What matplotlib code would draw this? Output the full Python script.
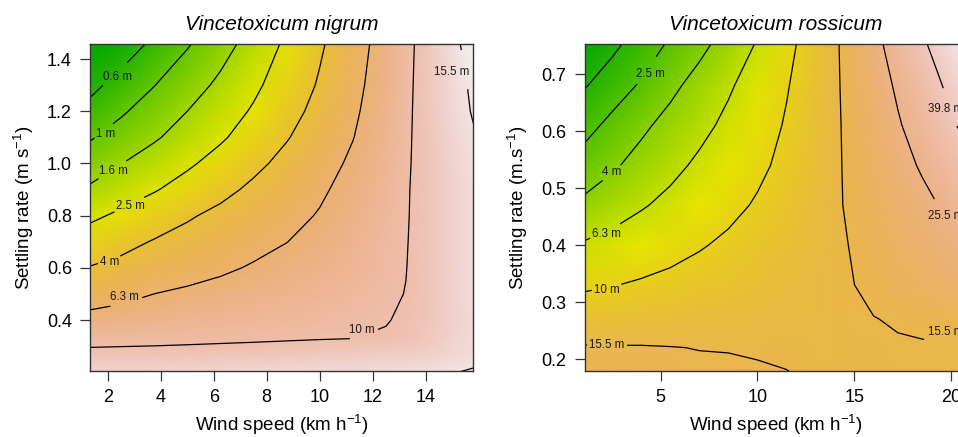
import numpy as np
import matplotlib
matplotlib.use("Agg")
import matplotlib.pyplot as plt
from matplotlib.colors import ListedColormap, hsv_to_rgb

plt.rcParams['font.family'] = ['Liberation Sans', 'DejaVu Sans']
plt.rcParams['mathtext.fontset'] = 'custom'
plt.rcParams['mathtext.rm'] = 'Liberation Sans'
plt.rcParams['mathtext.it'] = 'Liberation Sans:italic'
plt.rcParams['contour.negative_linestyle'] = 'solid'

# ---- Vincetoxicum nigrum: log10 of dispersal distance (m) ----
nigrum_wind = [1.3, 2.5, 3.75, 5, 6.25, 7.5, 8.75, 10, 11.25, 12.5, 13.25, 14, 14.9, 15.8]
nigrum_settling = [0.2, 0.27, 0.33, 0.4, 0.5, 0.6, 0.7, 0.8, 0.9, 1.0, 1.1, 1.2, 1.3, 1.46]
nigrum_log10_dist = [
    [1.12, 1.12, 1.125, 1.13, 1.135, 1.14, 1.145, 1.15, 1.155, 1.16, 1.165, 1.17, 1.185, 1.20],
    [1.033, 1.035, 1.036, 1.038, 1.041, 1.045, 1.052, 1.06, 1.075, 1.085, 1.09, 1.10, 1.13, 1.16],
    [0.955, 0.961, 0.967, 0.974, 0.98, 0.985, 0.99, 0.995, 0.999, 1.01, 1.03, 1.06, 1.11, 1.15],
    [0.864, 0.881, 0.898, 0.914, 0.928, 0.941, 0.953, 0.967, 0.982, 0.995, 1.015, 1.05, 1.10, 1.15],
    [0.696, 0.747, 0.80, 0.828, 0.853, 0.88, 0.906, 0.93, 0.959, 0.986, 1.002, 1.045, 1.10, 1.16],
    [0.609, 0.648, 0.69, 0.732, 0.773, 0.814, 0.854, 0.894, 0.934, 0.974, 0.998, 1.04, 1.10, 1.16],
    [0.485, 0.55, 0.613, 0.659, 0.705, 0.751, 0.797, 0.852, 0.907, 0.962, 0.995, 1.04, 1.10, 1.16],
    [0.36, 0.431, 0.507, 0.583, 0.643, 0.698, 0.753, 0.81, 0.88, 0.95, 0.992, 1.04, 1.10, 1.16],
    [0.229, 0.305, 0.384, 0.469, 0.555, 0.635, 0.705, 0.776, 0.855, 0.939, 0.99, 1.04, 1.10, 1.16],
    [0.10, 0.20, 0.286, 0.37, 0.463, 0.561, 0.651, 0.736, 0.826, 0.926, 0.986, 1.04, 1.11, 1.17],
    [-0.02, 0.081, 0.183, 0.279, 0.374, 0.48, 0.591, 0.694, 0.795, 0.911, 0.981, 1.045, 1.12, 1.18],
    [-0.165, -0.026, 0.092, 0.204, 0.309, 0.417, 0.538, 0.656, 0.772, 0.899, 0.977, 1.047, 1.128, 1.20],
    [-0.28, -0.148, -0.005, 0.119, 0.242, 0.362, 0.49, 0.62, 0.751, 0.888, 0.972, 1.049, 1.136, 1.21],
    [-0.42, -0.34, -0.183, -0.02, 0.128, 0.277, 0.428, 0.578, 0.724, 0.872, 0.963, 1.05, 1.151, 1.24],
]
nigrum_levels = [0.6, 1, 1.6, 2.5, 4, 6.3, 10, 15.5]
nigrum_unlabelled = []
nigrum_xticks = [2, 4, 6, 8, 10, 12, 14]
nigrum_yticks = [0.4, 0.6, 0.8, 1.0, 1.2, 1.4]

# ---- Vincetoxicum rossicum: log10 of dispersal distance (m) ----
rossicum_wind = [1.0, 2.5, 4, 5.5, 7, 8.5, 10, 11.5, 13, 14, 15, 16, 17.25, 18.5, 19.75, 21.0]
rossicum_settling = [0.17, 0.22, 0.27, 0.33, 0.40, 0.47, 0.54, 0.61, 0.68, 0.76]
rossicum_log10_dist = [
    [1.22, 1.22, 1.218, 1.215, 1.21, 1.205, 1.20, 1.195, 1.18, 1.175, 1.175, 1.175, 1.175, 1.175, 1.175, 1.175],
    [1.20, 1.198, 1.197, 1.193, 1.188, 1.187, 1.183, 1.175, 1.17, 1.172, 1.175, 1.18, 1.182, 1.184, 1.186, 1.188],
    [1.098, 1.106, 1.116, 1.124, 1.134, 1.143, 1.151, 1.16, 1.165, 1.172, 1.182, 1.188, 1.198, 1.205, 1.21, 1.215],
    [0.975, 0.994, 1.019, 1.042, 1.067, 1.088, 1.11, 1.135, 1.158, 1.174, 1.19, 1.214, 1.244, 1.274, 1.304, 1.334],
    [0.816, 0.859, 0.902, 0.945, 0.987, 1.028, 1.067, 1.106, 1.145, 1.171, 1.199, 1.233, 1.275, 1.317, 1.359, 1.40],
    [0.642, 0.713, 0.783, 0.844, 0.901, 0.959, 1.016, 1.075, 1.134, 1.174, 1.214, 1.258, 1.312, 1.367, 1.428, 1.506],
    [0.473, 0.576, 0.666, 0.752, 0.83, 0.898, 0.967, 1.04, 1.118, 1.171, 1.225, 1.282, 1.352, 1.423, 1.497, 1.57],
    [0.327, 0.449, 0.566, 0.663, 0.751, 0.839, 0.926, 1.014, 1.107, 1.169, 1.236, 1.306, 1.392, 1.478, 1.563, 1.65],
    [0.185, 0.301, 0.42, 0.556, 0.672, 0.777, 0.883, 0.989, 1.098, 1.17, 1.248, 1.329, 1.429, 1.522, 1.615, 1.71],
    [0.02, 0.145, 0.278, 0.41, 0.537, 0.668, 0.804, 0.951, 1.085, 1.17, 1.267, 1.368, 1.479, 1.584, 1.69, 1.79],
]
rossicum_levels = [2.5, 4, 6.3, 10, 15.5, 25.5, 39.8]
rossicum_unlabelled = [1.6]
rossicum_xticks = [5, 10, 15, 20]
rossicum_yticks = [0.2, 0.3, 0.4, 0.5, 0.6, 0.7]


def terrain_colors(n=256):
    # same recipe as R's terrain.colors()
    k = n // 2
    h = np.concatenate([np.linspace(4/12, 2/12, k), np.linspace(2/12, 0, n - k + 1)[1:]])
    s = np.concatenate([np.ones(k), np.linspace(1, 0, n - k + 1)[1:]])
    v = np.concatenate([np.linspace(0.65, 0.9, k), np.linspace(0.9, 0.95, n - k + 1)[1:]])
    return ListedColormap(hsv_to_rgb(np.column_stack([h, s, v])))


cmap = terrain_colors()
frame = '#333333'


def panel(ax, wind, settling, logd, levels, unlabelled, label_pos, title, ylabel,
          xticks, yticks, xlim, ylim):
    X, Y = np.meshgrid(wind, settling)
    Z = np.array(logd)
    ax.pcolormesh(X, Y, Z, shading='gouraud', cmap=cmap,
                  vmin=Z.min(), vmax=Z.max(), rasterized=True)
    if unlabelled:
        ax.contour(X, Y, Z, levels=np.log10(unlabelled), colors='black',
                   linewidths=0.9, linestyles='solid')
    cs = ax.contour(X, Y, Z, levels=np.log10(levels), colors='black',
                    linewidths=0.9, linestyles='solid')
    fmt = {lv: f"{m:g} m" for lv, m in zip(cs.levels, levels)}
    texts = ax.clabel(cs, fmt=fmt, fontsize=8.3, inline=True, inline_spacing=2,
                      manual=label_pos)
    for t, p in zip(texts, label_pos):
        t.set_rotation(0)
        t.set_position(p)
        t.set_color('#1a1a1a')
    ax.set_xlim(*xlim)
    ax.set_ylim(*ylim)
    ax.set_xticks(xticks)
    ax.set_yticks(yticks)
    ax.set_yticklabels([f"{v:.1f}" for v in yticks])
    ax.tick_params(direction='out', length=7, width=0.9, color=frame,
                   labelsize=13, pad=6)
    for sp in ax.spines.values():
        sp.set_color(frame)
        sp.set_linewidth(1)
    ax.set_title(title, fontsize=15, style='italic', pad=10)
    ax.set_xlabel("Wind speed (km h$^{-1}$)", fontsize=13.5, labelpad=5)
    ax.set_ylabel(ylabel, fontsize=13.5, labelpad=8)


fig = plt.figure(figsize=(9.58, 4.37), dpi=100)
ax1 = fig.add_axes([0.0939, 0.151, 0.3998, 0.748])
ax2 = fig.add_axes([0.6103, 0.151, 0.3987, 0.748])

panel(ax1, nigrum_wind, nigrum_settling, nigrum_log10_dist, nigrum_levels,
      nigrum_unlabelled,
      [(2.38, 1.331), (1.94, 1.113), (2.2, 0.972), (2.84, 0.837), (2.08, 0.623),
       (2.64, 0.489), (11.6, 0.362), (14.98, 1.351)],
      "Vincetoxicum nigrum", "Settling rate (m s$^{-1}$)",
      nigrum_xticks, nigrum_yticks, (1.33, 15.78), (0.205, 1.457))

panel(ax2, rossicum_wind, rossicum_settling, rossicum_log10_dist, rossicum_levels,
      rossicum_unlabelled,
      [(4.5, 0.701), (2.45, 0.528), (2.2, 0.42), (2.23, 0.322), (2.24, 0.2246),
       (19.7, 0.248), (19.7, 0.451), (19.7, 0.639)],
      "Vincetoxicum rossicum", "Settling rate (m.s$^{-1}$)",
      rossicum_xticks, rossicum_yticks, (1.08, 20.8), (0.179, 0.7526))

fig.savefig("out.png", dpi=100)
